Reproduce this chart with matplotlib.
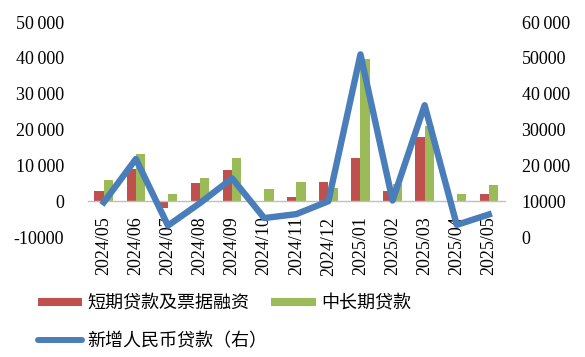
import matplotlib
matplotlib.use("Agg")
import matplotlib.pyplot as plt
import numpy as np
from matplotlib.lines import Line2D

months = ["2024/05", "2024/06", "2024/07", "2024/08", "2024/09", "2024/10", "2024/11",
          "2024/12", "2025/01", "2025/02", "2025/03", "2025/04", "2025/05"]
short_term = [2800, 9100, -1900, 5000, 8600, 200, 1200, 5300, 12200, 2800, 18000, -300, 1900]
mid_long = [5900, 13300, 1900, 6400, 12200, 3300, 5300, 3700, 39800, 4700, 21100, 1900, 4400]
new_loans = [9700, 21800, 3200, 9500, 16400, 5300, 6400, 10000, 51000, 10200, 36800, 3400, 6300]

left_ticks = [-10000, 0, 10000, 20000, 30000, 40000, 50000]
left_labels = ["-10000", "0", "10\u2009000", "20\u2009000", "30\u2009000", "40\u2009000", "50\u2009000"]
right_ticks = [0, 10000, 20000, 30000, 40000, 50000, 60000]
right_labels = ["0", "10000", "20\u2009000", "30000", "40\u2009000", "50000", "60\u2009000"]

RED = "#C0504D"
GREEN = "#9BBB59"
BLUE = "#4A7EBB"
SERIF = ["Liberation Serif", "DejaVu Serif"]
CJK = ["Noto Sans CJK SC", "DejaVu Sans"]

fig = plt.figure(figsize=(5.85, 3.57), dpi=100)
ax = fig.add_axes([0.150, 0.336, 0.713, 0.602])
ax2 = ax.twinx()

x = np.arange(len(months))
w = 0.29
ax.bar(x - w / 2, short_term, width=w, color=RED, zorder=2)
ax.bar(x + w / 2, mid_long, width=w, color=GREEN, zorder=2)
ax2.plot(x, new_loans, color=BLUE, linewidth=4.6, solid_joinstyle="round", zorder=3)

ax.set_xlim(-0.5, len(months) - 0.5)
ax.set_ylim(-10000, 50000)
ax2.set_ylim(0, 60000)

for a in (ax, ax2):
    for s in ("top", "left", "right", "bottom"):
        a.spines[s].set_visible(False)
ax.spines["bottom"].set_visible(True)
ax.spines["bottom"].set_position(("data", 0))
ax.spines["bottom"].set_color("#BFBFBF")
ax.spines["bottom"].set_linewidth(1.0)

ax.set_xticks(x)
ax.set_xticklabels(months, rotation=90, family=SERIF, fontsize=13)
ax.tick_params(axis="x", length=0, pad=11)

ax.set_yticks(left_ticks)
ax.set_yticklabels(left_labels, family=SERIF, fontsize=13)
ax.tick_params(axis="y", length=0, pad=17)
ax2.set_yticks(right_ticks)
ax2.set_yticklabels(right_labels, family=SERIF, fontsize=13)
ax2.tick_params(axis="y", length=0, pad=12)

handles = [
    Line2D([], [], color=RED, linewidth=5.8, solid_capstyle="butt"),
    Line2D([], [], color=BLUE, linewidth=4.3, solid_capstyle="round"),
    Line2D([], [], color=GREEN, linewidth=5.8, solid_capstyle="butt"),
]
labels = ["短期贷款及票据融资", "新增人民币贷款（右）", "中长期贷款"]
fig.legend(handles, labels, loc="upper left", bbox_to_anchor=(0.065, 0.176), ncol=2,
           frameon=False, prop={"family": CJK, "size": 13}, handlelength=2.45,
           handletextpad=0.3, columnspacing=0.2, labelspacing=1.13, borderpad=0,
           borderaxespad=0)

fig.savefig("out.png", dpi=100, facecolor="white")
